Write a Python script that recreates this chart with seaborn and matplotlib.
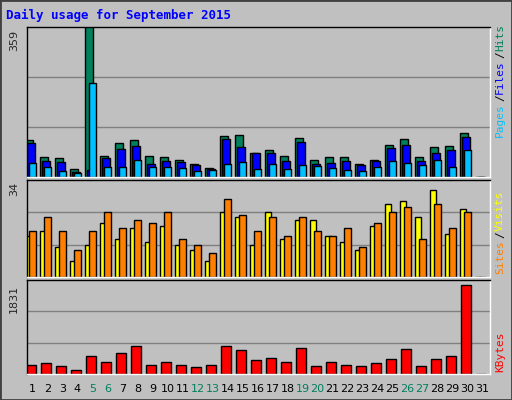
import matplotlib
matplotlib.use("Agg")
import matplotlib.pyplot as plt
import seaborn as sns
import numpy as np

sns.set_style("white")
plt.rcParams['font.family'] = ['DejaVu Sans Mono', 'DejaVu Sans']

days = list(range(1, 32))
hits  = [88,48,46,19,359,51,80,88,51,48,41,31,21,98,100,58,63,51,93,41,48,48,31,41,75,90,48,71,73,105,0]
files = [80,39,36,11,16,46,66,73,31,39,36,29,19,90,71,56,58,39,83,31,34,39,29,39,68,75,39,56,63,95,0]
pages = [34,24,14,9,224,24,24,41,24,24,21,14,16,31,36,19,31,19,29,26,21,16,14,24,39,34,29,41,24,63,0]
visits = [15,17,11,6,12,20,14,18,13,19,12,10,6,24,22,12,24,14,21,21,15,13,10,19,27,28,22,32,16,25,0]
sites  = [17,22,17,10,17,24,18,21,20,24,14,12,9,29,23,17,22,15,22,17,15,18,11,20,24,26,14,27,18,24,0]
kbytes = [192,232,172,73,371,252,431,570,192,252,192,152,192,570,491,292,332,252,530,172,252,192,172,232,312,511,172,312,371,1831,0]
weekend = {5,6,12,13,19,20,26,27}

W, H = 512, 400
fig = plt.figure(figsize=(W/100, H/100), dpi=100)
fig.patch.set_facecolor('#c0c0c0')
bg = '#c0c0c0'

def mkax(top, bottom, ymax):
    ax = fig.add_axes([27/W, 1-bottom/H, (490-27)/W, (bottom-top)/H])
    ax.set_facecolor(bg)
    ax.set_xlim((27-32.5)/15+1, (490-32.5)/15+1)
    ax.set_ylim(0, ymax)
    for v in (ymax/3, 2*ymax/3):
        ax.axhline(v, color='#808080', lw=1, zorder=0)
    ax.set_xticks([]); ax.set_yticks([])
    for s in ax.spines.values():
        s.set_color('black'); s.set_linewidth(1)
    ax.spines['bottom'].set_color('white'); ax.spines['right'].set_color('white')
    return ax

x = np.array(days, dtype=float)
ax1 = mkax(27, 177, 359*146/147)
kw = dict(align='edge', edgecolor='black', linewidth=1)
ax1.bar(x-0.5, hits, width=8/15, color='#00805c', **kw)
ax1.bar(x-0.5+2/15, files, width=8/15, color='#0000ff', **kw)
ax1.bar(x-0.5+4/15, pages, width=7/15, color='#00c0ff', **kw)

ax2 = mkax(180, 277, 34*97/92)
ax2.bar(x-0.5, visits, width=6/15, color='#ffff00', **kw)
ax2.bar(x-0.5+4/15, sites, width=7/15, color='#ff8000', **kw)

ax3 = mkax(280, 374, 1831*94/89)
ax3.bar(x-0.5+1/15, kbytes, width=10/15, color='#ff0000', **kw)

for d in days:
    fig.text((32.5+15*(d-1))/W, 1-389/H, str(d), ha='center', va='center',
             fontsize=8, family='DejaVu Sans',
             color='#00805c' if d in weekend else 'black')

fig.text(6/W, 1-15/H, 'Daily usage for September 2015', color='#0000ff',
         fontsize=9, fontweight='bold', va='center', ha='left')
fig.text(14/W, 1-30/H, '359', rotation=90, fontsize=8, va='top', ha='center', family='DejaVu Sans')
fig.text(14/W, 1-182/H, '34', rotation=90, fontsize=8, va='top', ha='center', family='DejaVu Sans')
fig.text(14/W, 1-285/H, '1831', rotation=90, fontsize=8, va='top', ha='center', family='DejaVu Sans')

def rlabel(y, parts):
    # parts from bottom to top
    cy = y
    for txt, col in parts:
        t = fig.text(500/W, 1-cy/H, txt, rotation=90, color=col, fontsize=8,
                     ha='center', va='bottom')
        cy -= len(txt)*7.2
rlabel(137, [('Pages', '#00c0ff'), ('/', 'black'), ('Files', '#0000ff'), ('/', 'black'), ('Hits', '#00805c')])
rlabel(274, [('Sites', '#ff8000'), ('/', 'black'), ('Visits', '#ffff00')])
rlabel(372, [('KBytes', '#ff0000')])

fig.add_artist(plt.Rectangle((0, 0), 1, 1, transform=fig.transFigure, fill=False,
                             edgecolor='#404040', lw=2))
fig.savefig('out.png', dpi=100, facecolor=fig.get_facecolor())
